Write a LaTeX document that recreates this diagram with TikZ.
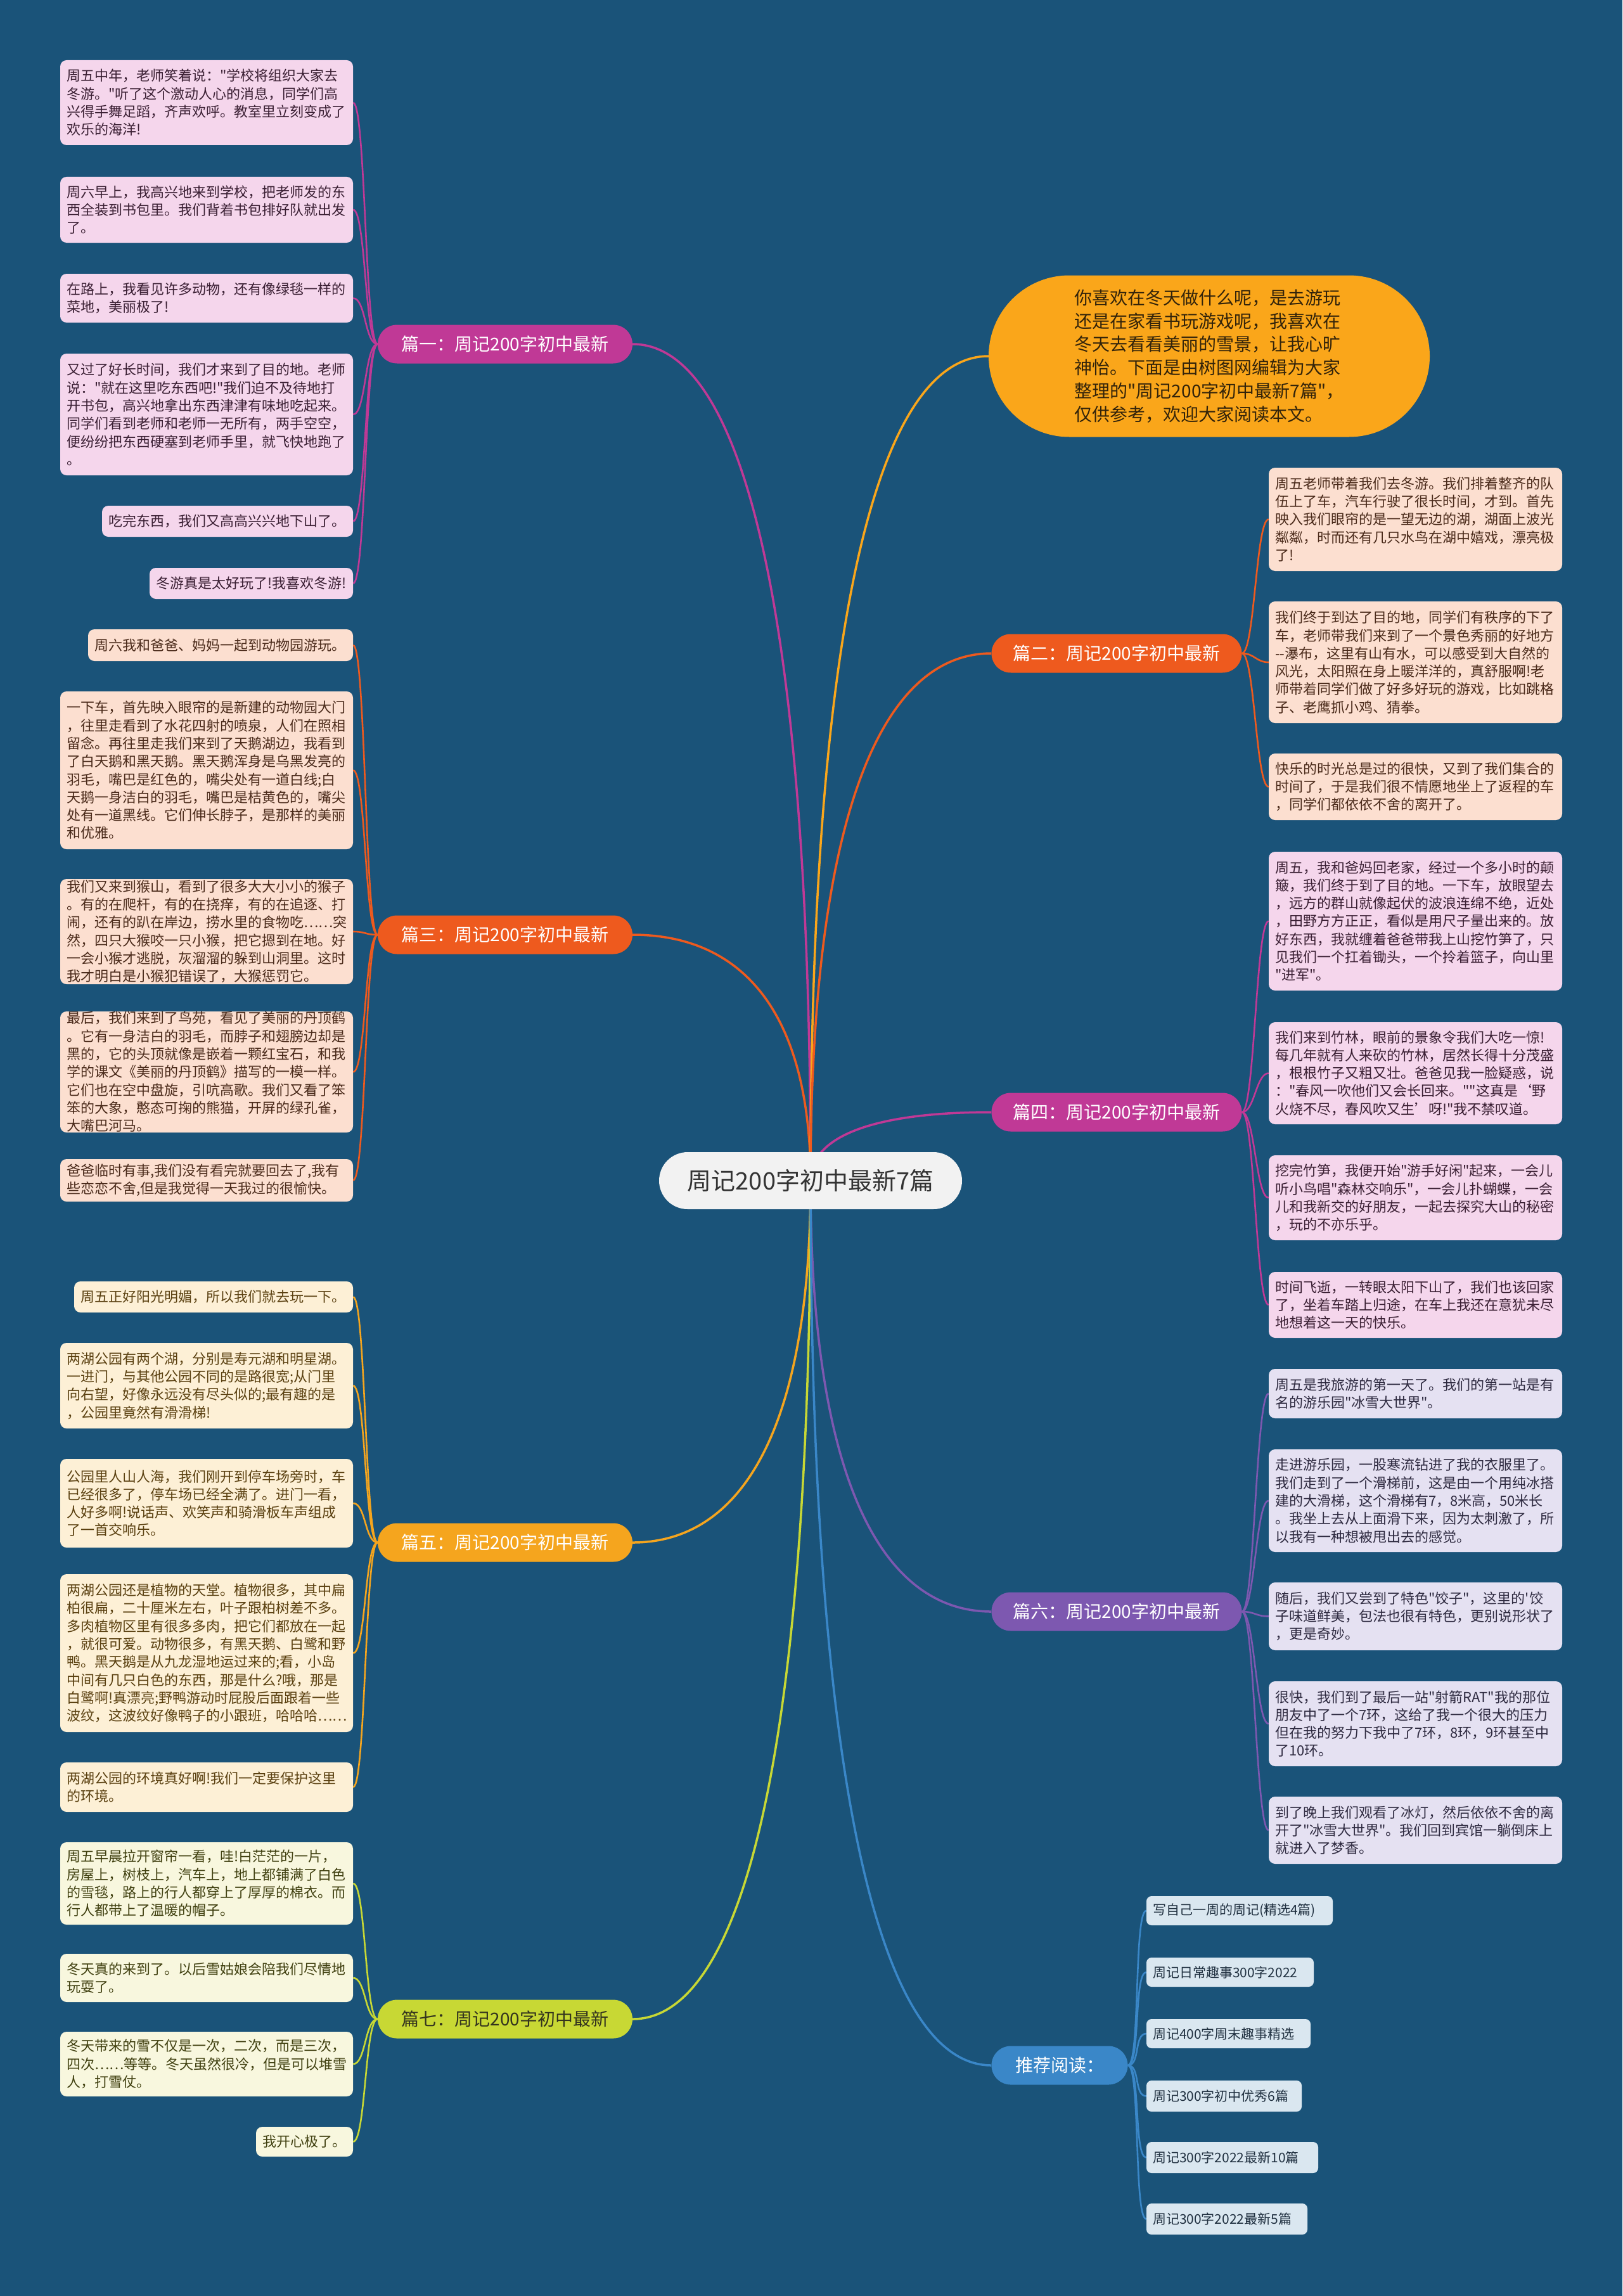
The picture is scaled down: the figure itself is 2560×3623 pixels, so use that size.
\documentclass[tikz,border=0pt]{standalone}
\usepackage{fontspec}
\setmainfont{Noto Sans CJK SC}[Ligatures=TeXOff]
\usetikzlibrary{shapes.misc,calc}
\definecolor{bgc}{RGB}{26,83,121}
\definecolor{cMag}{RGB}{192,57,150}
\definecolor{cRed}{RGB}{238,90,30}
\definecolor{cAmb}{RGB}{245,165,30}
\definecolor{cYel}{RGB}{200,216,52}
\definecolor{cPur}{RGB}{125,88,176}
\definecolor{cBlu}{RGB}{58,135,200}
\definecolor{cInt}{RGB}{250,166,26}
\definecolor{fPink}{RGB}{245,214,236}
\definecolor{fPeach}{RGB}{252,223,208}
\definecolor{fCream}{RGB}{253,240,214}
\definecolor{fPale}{RGB}{248,247,222}
\definecolor{fLav}{RGB}{229,225,242}
\definecolor{fLblu}{RGB}{218,231,240}
\definecolor{tPink}{RGB}{58,31,51}
\definecolor{tPeach}{RGB}{74,42,26}
\definecolor{tCream}{RGB}{90,64,16}
\definecolor{tPale}{RGB}{64,64,16}
\definecolor{tLav}{RGB}{46,42,64}
\definecolor{tLblu}{RGB}{32,48,64}
\pgfdeclarelayer{back}
\pgfsetlayers{back,main}
\tikzset{
 leafbox/.style={rounded corners=10pt, inner xsep=10pt, inner ysep=0pt, align=left,
   font=\fontsize{22}{28.3}\selectfont},
 pinkleaf/.style={fill=fPink, text=tPink},
 peachleaf/.style={fill=fPeach, text=tPeach},
 creamleaf/.style={fill=fCream, text=tCream},
 paleleaf/.style={fill=fPale, text=tPale},
 lavleaf/.style={fill=fLav, text=tLav},
 bluleaf/.style={fill=fLblu, text=tLblu, rounded corners=8pt, font=\fontsize{21}{26}\selectfont},
 branch/.style={rounded rectangle, minimum height=61pt, inner sep=0pt, text=white,
   font=\fontsize{28}{32}\selectfont},
 mainline/.style={line width=3.5pt},
 leafline/.style={line width=2.6pt},
}
\newcommand\leafnode[7]{%
 \pgfmathsetmacro\lfw{#5-#3}%
 \pgfmathsetmacro\lfh{#6-#4}%
 \pgfmathsetmacro\lftw{#5-#3-20}%
 \pgfmathsetmacro\lfx{(#3+#5)/2}%
 \pgfmathsetmacro\lfy{(#4+#6)/2}%
 \node[leafbox,#2,minimum width=\lfw pt,minimum height=\lfh pt,text width=\lftw pt] (#1) at (\lfx,\lfy) {#7};%
}
\newcommand\mconn[2]{\draw[#1,mainline] (ctr.center) .. controls ($(ctr.center)!0.7!(ctr.center|-#2)$) and ($(#2)!0.6!(ctr.center|-#2)$) .. (#2);}
\newcommand\lconn[3]{\draw[#1,leafline] (#2.west) .. controls ([xshift=-20pt]#2.west) and ([xshift=20pt]#3.east) .. (#3.east);}
\newcommand\rconn[3]{\draw[#1,leafline] (#2.east) .. controls ([xshift=20pt]#2.east) and ([xshift=-20pt]#3.west) .. (#3.west);}
\begin{document}
\begin{tikzpicture}[x=1pt,y=-1pt]
\begin{pgfonlayer}{back}
\fill[bgc] (0,0) rectangle (2560,3623);
\end{pgfonlayer}
\useasboundingbox (0,0) rectangle (2560,3623);

% center
\node[rounded rectangle, minimum width=478pt, minimum height=90pt, inner sep=0pt, fill={rgb,255:red,242;green,242;blue,242}, text={rgb,255:red,51;green,51;blue,51}, font=\fontsize{38}{44}\selectfont] (ctr) at (1279,1863) {周记200字初中最新7篇};

% intro
\node[rounded rectangle, minimum width=696pt, minimum height=255pt, inner sep=0pt, fill=cInt, text={rgb,255:red,50;green,35;blue,10}, align=left, font=\fontsize{28}{36.7}\selectfont] (intro) at (1908,562) {你喜欢在冬天做什么呢，是去游玩\\还是在家看书玩游戏呢，我喜欢在\\冬天去看看美丽的雪景，让我心旷\\神怡。下面是由树图网编辑为大家\\整理的"周记200字初中最新7篇"，\\仅供参考，欢迎大家阅读本文。};

% branches
\node[branch, fill=cMag, minimum width=402pt] (b1) at (797,543) {篇一：周记200字初中最新};
\node[branch, fill=cRed, minimum width=402pt] (b3) at (797,1475) {篇三：周记200字初中最新};
\node[branch, fill=cAmb, minimum width=402pt] (b5) at (797,2434) {篇五：周记200字初中最新};
\node[branch, fill=cYel, minimum width=402pt, text={rgb,255:red,51;green,51;blue,30}] (b7) at (797,3186) {篇七：周记200字初中最新};
\node[branch, fill=cRed, minimum width=395pt] (b2) at (1762,1031) {篇二：周记200字初中最新};
\node[branch, fill=cMag, minimum width=395pt] (b4) at (1762,1755) {篇四：周记200字初中最新};
\node[branch, fill=cPur, minimum width=395pt] (b6) at (1762,2543) {篇六：周记200字初中最新};
\node[branch, fill=cBlu, minimum width=215pt] (b8) at (1672,3259) {推荐阅读：};

% 篇一 leaves
\leafnode{a1}{pinkleaf}{95}{95}{557}{229}{周五中年，老师笑着说："学校将组织大家去\\冬游。"听了这个激动人心的消息，同学们高\\兴得手舞足蹈，齐声欢呼。教室里立刻变成了\\欢乐的海洋!}
\leafnode{a2}{pinkleaf}{95}{279}{557}{383}{周六早上，我高兴地来到学校，把老师发的东\\西全装到书包里。我们背着书包排好队就出发\\了。}
\leafnode{a3}{pinkleaf}{95}{432}{557}{509}{在路上，我看见许多动物，还有像绿毯一样的\\菜地，美丽极了!}
\leafnode{a4}{pinkleaf}{95}{558}{557}{750}{又过了好长时间，我们才来到了目的地。老师\\说："就在这里吃东西吧!"我们迫不及待地打\\开书包，高兴地拿出东西津津有味地吃起来。\\同学们看到老师和老师一无所有，两手空空，\\便纷纷把东西硬塞到老师手里，就飞快地跑了\\。}
\leafnode{a5}{pinkleaf}{161}{798}{557}{847}{吃完东西，我们又高高兴兴地下山了。}
\leafnode{a6}{pinkleaf}{236}{896}{557}{945}{冬游真是太好玩了!我喜欢冬游!}

% 篇三 leaves
\leafnode{c1}{peachleaf}{139}{993}{557}{1043}{周六我和爸爸、妈妈一起到动物园游玩。}
\leafnode{c2}{peachleaf}{95}{1091}{557}{1340}{一下车，首先映入眼帘的是新建的动物园大门\\，往里走看到了水花四射的喷泉，人们在照相\\留念。再往里走我们来到了天鹅湖边，我看到\\了白天鹅和黑天鹅。黑天鹅浑身是乌黑发亮的\\羽毛，嘴巴是红色的，嘴尖处有一道白线;白\\天鹅一身洁白的羽毛，嘴巴是桔黄色的，嘴尖\\处有一道黑线。它们伸长脖子，是那样的美丽\\和优雅。}
\leafnode{c3}{peachleaf}{95}{1387}{557}{1553}{我们又来到猴山，看到了很多大大小小的猴子\\。有的在爬杆，有的在挠痒，有的在追逐、打\\闹，还有的趴在岸边，捞水里的食物吃……突\\然，四只大猴咬一只小猴，把它摁到在地。好\\一会小猴才逃脱，灰溜溜的躲到山洞里。这时\\我才明白是小猴犯错误了，大猴惩罚它。}
\leafnode{c4}{peachleaf}{95}{1596}{557}{1787}{最后，我们来到了鸟苑，看见了美丽的丹顶鹤\\。它有一身洁白的羽毛，而脖子和翅膀边却是\\黑的，它的头顶就像是嵌着一颗红宝石，和我\\学的课文《美丽的丹顶鹤》描写的一模一样。\\它们也在空中盘旋，引吭高歌。我们又看了笨\\笨的大象，憨态可掬的熊猫，开屏的绿孔雀，\\大嘴巴河马。}
\leafnode{c5}{peachleaf}{95}{1829}{557}{1896}{爸爸临时有事,我们没有看完就要回去了,我有\\些恋恋不舍,但是我觉得一天我过的很愉快。}

% 篇五 leaves
\leafnode{e1}{creamleaf}{117}{2022}{557}{2071}{周五正好阳光明媚，所以我们就去玩一下。}
\leafnode{e2}{creamleaf}{95}{2119}{557}{2254}{两湖公园有两个湖，分别是寿元湖和明星湖。\\一进门，与其他公园不同的是路很宽;从门里\\向右望，好像永远没有尽头似的;最有趣的是\\，公园里竟然有滑滑梯!}
\leafnode{e3}{creamleaf}{95}{2302}{557}{2442}{公园里人山人海，我们刚开到停车场旁时，车\\已经很多了，停车场已经全满了。进门一看，\\人好多啊!说话声、欢笑声和骑滑板车声组成\\了一首交响乐。}
\leafnode{e4}{creamleaf}{95}{2484}{557}{2733}{两湖公园还是植物的天堂。植物很多，其中扁\\柏很扁，二十厘米左右，叶子跟柏树差不多。\\多肉植物区里有很多多肉，把它们都放在一起\\，就很可爱。动物很多，有黑天鹅、白鹭和野\\鸭。黑天鹅是从九龙湿地运过来的;看，小岛\\中间有几只白色的东西，那是什么?哦，那是\\白鹭啊!真漂亮;野鸭游动时屁股后面跟着一些\\波纹，这波纹好像鸭子的小跟班，哈哈哈……}
\leafnode{e5}{creamleaf}{95}{2781}{557}{2859}{两湖公园的环境真好啊!我们一定要保护这里\\的环境。}

% 篇七 leaves
\leafnode{g1}{paleleaf}{95}{2907}{557}{3037}{周五早晨拉开窗帘一看，哇!白茫茫的一片，\\房屋上，树枝上，汽车上，地上都铺满了白色\\的雪毯，路上的行人都穿上了厚厚的棉衣。而\\行人都带上了温暖的帽子。}
\leafnode{g2}{paleleaf}{95}{3083}{557}{3159}{冬天真的来到了。以后雪姑娘会陪我们尽情地\\玩耍了。}
\leafnode{g3}{paleleaf}{95}{3206}{557}{3308}{冬天带来的雪不仅是一次，二次，而是三次，\\四次……等等。冬天虽然很冷，但是可以堆雪\\人，打雪仗。}
\leafnode{g4}{paleleaf}{404}{3356}{557}{3403}{我开心极了。}

% 篇二 leaves
\leafnode{d1}{peachleaf}{2002}{738}{2465}{901}{周五老师带着我们去冬游。我们排着整齐的队\\伍上了车，汽车行驶了很长时间，才到。首先\\映入我们眼帘的是一望无边的湖，湖面上波光\\粼粼，时而还有几只水鸟在湖中嬉戏，漂亮极\\了!}
\leafnode{d2}{peachleaf}{2002}{949}{2465}{1141}{我们终于到达了目的地，同学们有秩序的下了\\车，老师带我们来到了一个景色秀丽的好地方\\--瀑布，这里有山有水，可以感受到大自然的\\风光，太阳照在身上暖洋洋的，真舒服啊!老\\师带着同学们做了好多好玩的游戏，比如跳格\\子、老鹰抓小鸡、猜拳。}
\leafnode{d3}{peachleaf}{2002}{1189}{2465}{1294}{快乐的时光总是过的很快，又到了我们集合的\\时间了，于是我们很不情愿地坐上了返程的车\\，同学们都依依不舍的离开了。}

% 篇四 leaves
\leafnode{f1}{pinkleaf}{2002}{1344}{2465}{1563}{周五，我和爸妈回老家，经过一个多小时的颠\\簸，我们终于到了目的地。一下车，放眼望去\\，远方的群山就像起伏的波浪连绵不绝，近处\\，田野方方正正，看似是用尺子量出来的。放\\好东西，我就缠着爸爸带我上山挖竹笋了，只\\见我们一个扛着锄头，一个拎着篮子，向山里\\"进军"。}
\leafnode{f2}{pinkleaf}{2002}{1613}{2465}{1774}{我们来到竹林，眼前的景象令我们大吃一惊!\\每几年就有人来砍的竹林，居然长得十分茂盛\\，根根竹子又粗又壮。爸爸见我一脸疑惑，说\\："春风一吹他们又会长回来。""这真是‘野\\火烧不尽，春风吹又生’呀!"我不禁叹道。}
\leafnode{f3}{pinkleaf}{2002}{1823}{2465}{1957}{挖完竹笋，我便开始"游手好闲"起来，一会儿\\听小鸟唱"森林交响乐"，一会儿扑蝴蝶，一会\\儿和我新交的好朋友，一起去探究大山的秘密\\，玩的不亦乐乎。}
\leafnode{f4}{pinkleaf}{2002}{2007}{2465}{2111}{时间飞逝，一转眼太阳下山了，我们也该回家\\了，坐着车踏上归途，在车上我还在意犹未尽\\地想着这一天的快乐。}

% 篇六 leaves
\leafnode{h1}{lavleaf}{2002}{2160}{2465}{2238}{周五是我旅游的第一天了。我们的第一站是有\\名的游乐园"冰雪大世界"。}
\leafnode{h2}{lavleaf}{2002}{2287}{2465}{2449}{走进游乐园，一股寒流钻进了我的衣服里了。\\我们走到了一个滑梯前，这是由一个用纯冰搭\\建的大滑梯，这个滑梯有7，8米高，50米长\\。我坐上去从上面滑下来，因为太刺激了，所\\以我有一种想被甩出去的感觉。}
\leafnode{h3}{lavleaf}{2002}{2497}{2465}{2604}{随后，我们又尝到了特色"饺子"，这里的'饺\\子味道鲜美，包法也很有特色，更别说形状了\\，更是奇妙。}
\leafnode{h4}{lavleaf}{2002}{2653}{2465}{2787}{很快，我们到了最后一站"射箭RAT"我的那位\\朋友中了一个7环，这给了我一个很大的压力\\但在我的努力下我中了7环，8环，9环甚至中\\了10环。}
\leafnode{h5}{lavleaf}{2002}{2835}{2465}{2941}{到了晚上我们观看了冰灯，然后依依不舍的离\\开了"冰雪大世界"。我们回到宾馆一躺倒床上\\就进入了梦香。}

% 推荐阅读 leaves
\leafnode{k1}{bluleaf}{1809}{2992}{2103}{3038}{写自己一周的周记(精选4篇)}
\leafnode{k2}{bluleaf}{1809}{3089}{2073}{3135}{周记日常趣事300字2022}
\leafnode{k3}{bluleaf}{1809}{3186}{2068}{3232}{周记400字周末趣事精选}
\leafnode{k4}{bluleaf}{1809}{3283}{2054}{3332}{周记300字初中优秀6篇}
\leafnode{k5}{bluleaf}{1809}{3380}{2080}{3429}{周记300字2022最新10篇}
\leafnode{k6}{bluleaf}{1809}{3477}{2063}{3526}{周记300字2022最新5篇}

\begin{pgfonlayer}{back}
\mconn{cMag}{b1.east}
\mconn{cRed}{b3.east}
\mconn{cAmb}{b5.east}
\mconn{cYel}{b7.east}
\mconn{cInt}{intro.west}
\mconn{cRed}{b2.west}
\mconn{cMag}{b4.west}
\mconn{cPur}{b6.west}
\mconn{cBlu}{b8.west}
\foreach \l in {a1,a2,a3,a4,a5,a6} {\lconn{cMag}{b1}{\l}}
\foreach \l in {c1,c2,c3,c4,c5} {\lconn{cRed}{b3}{\l}}
\foreach \l in {e1,e2,e3,e4,e5} {\lconn{cAmb}{b5}{\l}}
\foreach \l in {g1,g2,g3,g4} {\lconn{cYel}{b7}{\l}}
\foreach \l in {d1,d2,d3} {\rconn{cRed}{b2}{\l}}
\foreach \l in {f1,f2,f3,f4} {\rconn{cMag}{b4}{\l}}
\foreach \l in {h1,h2,h3,h4,h5} {\rconn{cPur}{b6}{\l}}
\foreach \l in {k1,k2,k3,k4,k5,k6} {\rconn{cBlu}{b8}{\l}}
\end{pgfonlayer}
\end{tikzpicture}
\end{document}
